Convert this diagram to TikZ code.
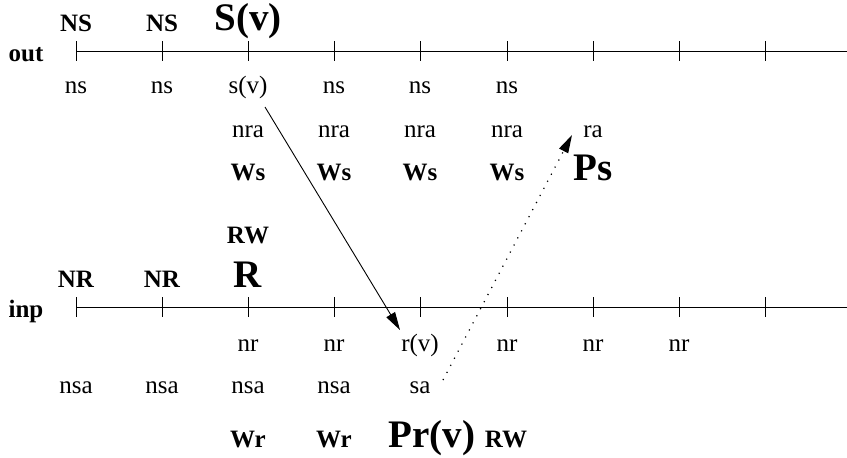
\documentclass[tikz,border=0pt]{standalone}
\usepackage{fontspec}
\setmainfont{Liberation Serif}
\usetikzlibrary{arrows.meta,calc}

\tikzset{
  lbl/.style={anchor=base, inner sep=0pt, font=\fontsize{12.5}{14}\selectfont},
  blbl/.style={anchor=base, inner sep=0pt, font=\fontsize{12.5}{14}\selectfont\bfseries},
  big/.style={anchor=base, inner sep=0pt, font=\fontsize{19.5}{22}\selectfont\bfseries},
  axis/.style={line width=0.5pt},
  tick/.style={line width=0.5pt},
  msg/.style={line width=0.45pt, -{Triangle[length=9pt,width=5pt]}},
  ack/.style={line width=0.6pt, dash pattern=on 0.6pt off 3.4pt, -{Triangle[length=9pt,width=5pt]}}
}

\begin{document}
\begin{tikzpicture}[x=0.5pt, y=-0.5pt]
\useasboundingbox (0,0) rectangle (847,457);

% time axes with their ticks
\draw[axis] (76,51) -- (847,51);
\draw[axis] (76,307) -- (847,307);
\foreach \i in {0,...,8} {
  \draw[tick] ({76+86.2*\i},41) -- ({76+86.2*\i},61);
  \draw[tick] ({76+86.2*\i},297) -- ({76+86.2*\i},317);
}

% axis names
\node[blbl] (out) at (26,61) {out};
\node[blbl] (inp) at (26,317) {inp};

% sender side, above the axis
\node[blbl] (NS1) at (76,31) {NS};
\node[blbl] (NS2) at (162,31) {NS};
\node[big]  (Sv)  at (248,30) {S(v)};

% sender side, below the axis
\node[lbl] (ns1) at (76,93)  {ns};
\node[lbl] (ns2) at (162,93) {ns};
\node[lbl] (sv)  at (248,93) {s(v)};
\node[lbl] (ns4) at (334,93) {ns};
\node[lbl] (ns5) at (420,93) {ns};
\node[lbl] (ns6) at (507,93) {ns};

\node[lbl] (nra3) at (248,137) {nra};
\node[lbl] (nra4) at (334,137) {nra};
\node[lbl] (nra5) at (420,137) {nra};
\node[lbl] (nra6) at (507,137) {nra};
\node[lbl] (ra)   at (593,137) {ra};

\node[blbl] (Ws3) at (248,180) {Ws};
\node[blbl] (Ws4) at (334,180) {Ws};
\node[blbl] (Ws5) at (420,180) {Ws};
\node[blbl] (Ws6) at (507,180) {Ws};
\node[big]  (Ps)  at (593,180) {Ps};

% receiver side, above the axis
\node[blbl] (RWa) at (248,243) {RW};
\node[blbl] (NR1) at (76,287)  {NR};
\node[blbl] (NR2) at (162,287) {NR};
\node[big]  (R)   at (248,287) {R};

% receiver side, below the axis
\node[lbl] (nr3) at (248,351) {nr};
\node[lbl] (nr4) at (334,351) {nr};
\node[lbl] (rv)  at (420,351) {r(v)};
\node[lbl] (nr6) at (507,351) {nr};
\node[lbl] (nr7) at (593,351) {nr};
\node[lbl] (nr8) at (679,351) {nr};

\node[lbl] (nsa1) at (76,393)  {nsa};
\node[lbl] (nsa2) at (162,393) {nsa};
\node[lbl] (nsa3) at (248,393) {nsa};
\node[lbl] (nsa4) at (334,393) {nsa};
\node[lbl] (sa)   at (420,393) {sa};

\node[blbl] (Wr3) at (248,447) {Wr};
\node[blbl] (Wr4) at (334,447) {Wr};
\node[big]  (Prv) at (432,447) {Pr(v)};
\node[blbl] (RWb) at (506,447) {RW};

% message and its acknowledgement
\draw[msg] ($(sv.base)+(17,14)$) -- ($(rv.base)+(-20,-21)$);
\draw[ack] ($(sa.base)+(23,-13)$) -- ($(ra.base)+(-21,-2)$);
\end{tikzpicture}
\end{document}
